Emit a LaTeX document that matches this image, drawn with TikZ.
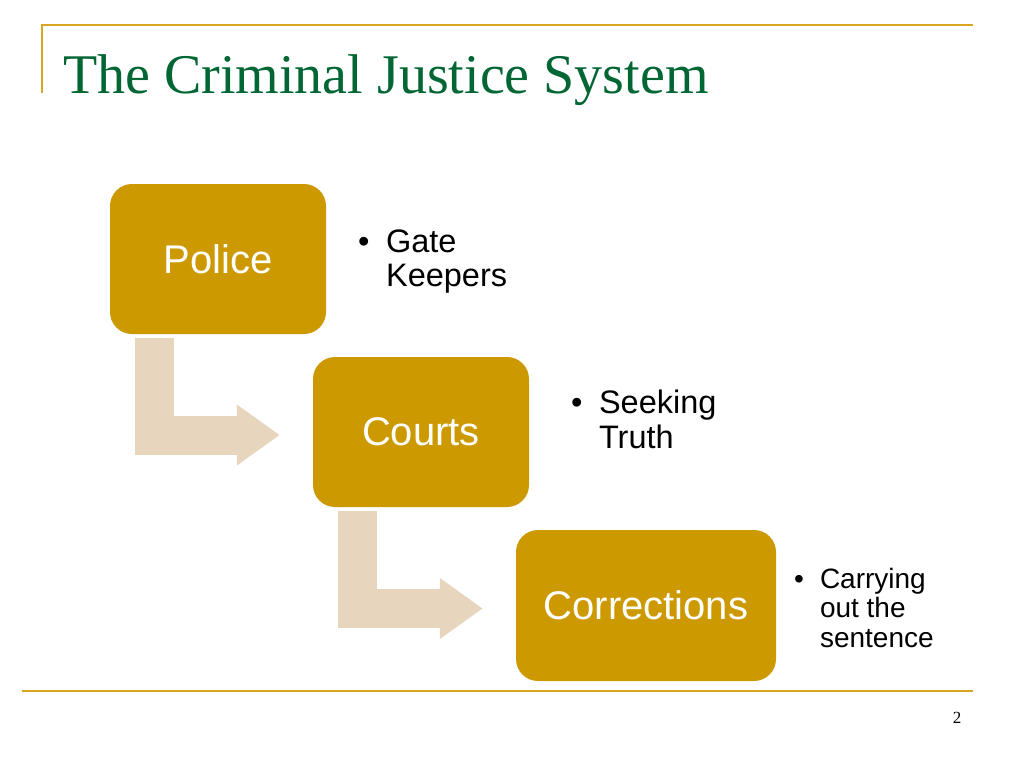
\documentclass[tikz,border=0pt]{standalone}
\usepackage{fontspec}
\setmainfont{Liberation Serif}
\newfontfamily\arialfont{Liberation Sans}
\usetikzlibrary{calc,arrows.meta,positioning}
\definecolor{slidegold}{RGB}{204,153,0}
\definecolor{rulegold}{RGB}{218,165,32}
\definecolor{titlegreen}{RGB}{0,102,51}
\definecolor{arrowbeige}{RGB}{232,213,190}
\tikzset{
    % stage of the system (gold rounded box)
    stagebox/.style={
        rectangle, rounded corners=22pt, fill=slidegold,
        minimum width=216pt, minimum height=150pt, inner sep=0pt,
        text=white, font=\arialfont\fontsize{40}{44}\selectfont
    },
    % bent arrow between two stages
    flowarrow/.style={
        draw=arrowbeige, line width=39pt, line join=miter,
        -{Triangle[width=58pt,length=43pt]}
    },
    % bullet notes next to a stage
    notetext/.style={inner sep=0pt, anchor=base west, text=black},
    slideline/.style={draw=rulegold, line width=2pt},
}

\begin{document}
\begin{tikzpicture}[x=1pt,y=-1pt]
  \useasboundingbox[fill=white] (0,0) rectangle (1024,768);

  % --- frame and title ---
  \draw[slideline] (42,93) -- (42,25) -- (973,25);
  \draw[slideline] (22,691) -- (973,691);
  \node[anchor=base west, inner sep=0pt, text=titlegreen,
        font=\fontsize{56}{60}\selectfont] (title) at (63,93) {The Criminal Justice System};
  \node[anchor=base, inner sep=0pt, font=\fontsize{17}{20}\selectfont] (pagenum) at (957,723) {2};

  % --- stages ---
  \node[stagebox] (police) at (218,259) {Police};
  \node[stagebox] (courts) at (421,432) {Courts};
  \node[stagebox, minimum width=260pt, minimum height=151pt] (corrections) at (646,605.5) {Corrections};

  % --- flow ---
  \draw[flowarrow] ($(police.south west)+(44.5,4)$) |- ($(courts.west)+(-33,3)$);
  \draw[flowarrow] ($(courts.south west)+(44.5,4)$) |- ($(corrections.west)+(-33,3)$);

  % --- notes ---
  \node[notetext, font=\arialfont\fontsize{32.5}{34}\selectfont] (gatenote) at (358,252)
        {\begin{tabular}[t]{@{}l@{\hspace{16.5pt}}l@{}}\textbullet & Gate\\ & Keepers\end{tabular}};
  \node[notetext, font=\arialfont\fontsize{32.5}{35}\selectfont] (truthnote) at (571,413)
        {\begin{tabular}[t]{@{}l@{\hspace{16.5pt}}l@{}}\textbullet & Seeking\\ & Truth\end{tabular}};
  \node[notetext, font=\arialfont\fontsize{28}{29.5}\selectfont] (sentencenote) at (794,588)
        {\begin{tabular}[t]{@{}l@{\hspace{16pt}}l@{}}\textbullet & Carrying\\ & out the\\ & sentence\end{tabular}};
\end{tikzpicture}
\end{document}
